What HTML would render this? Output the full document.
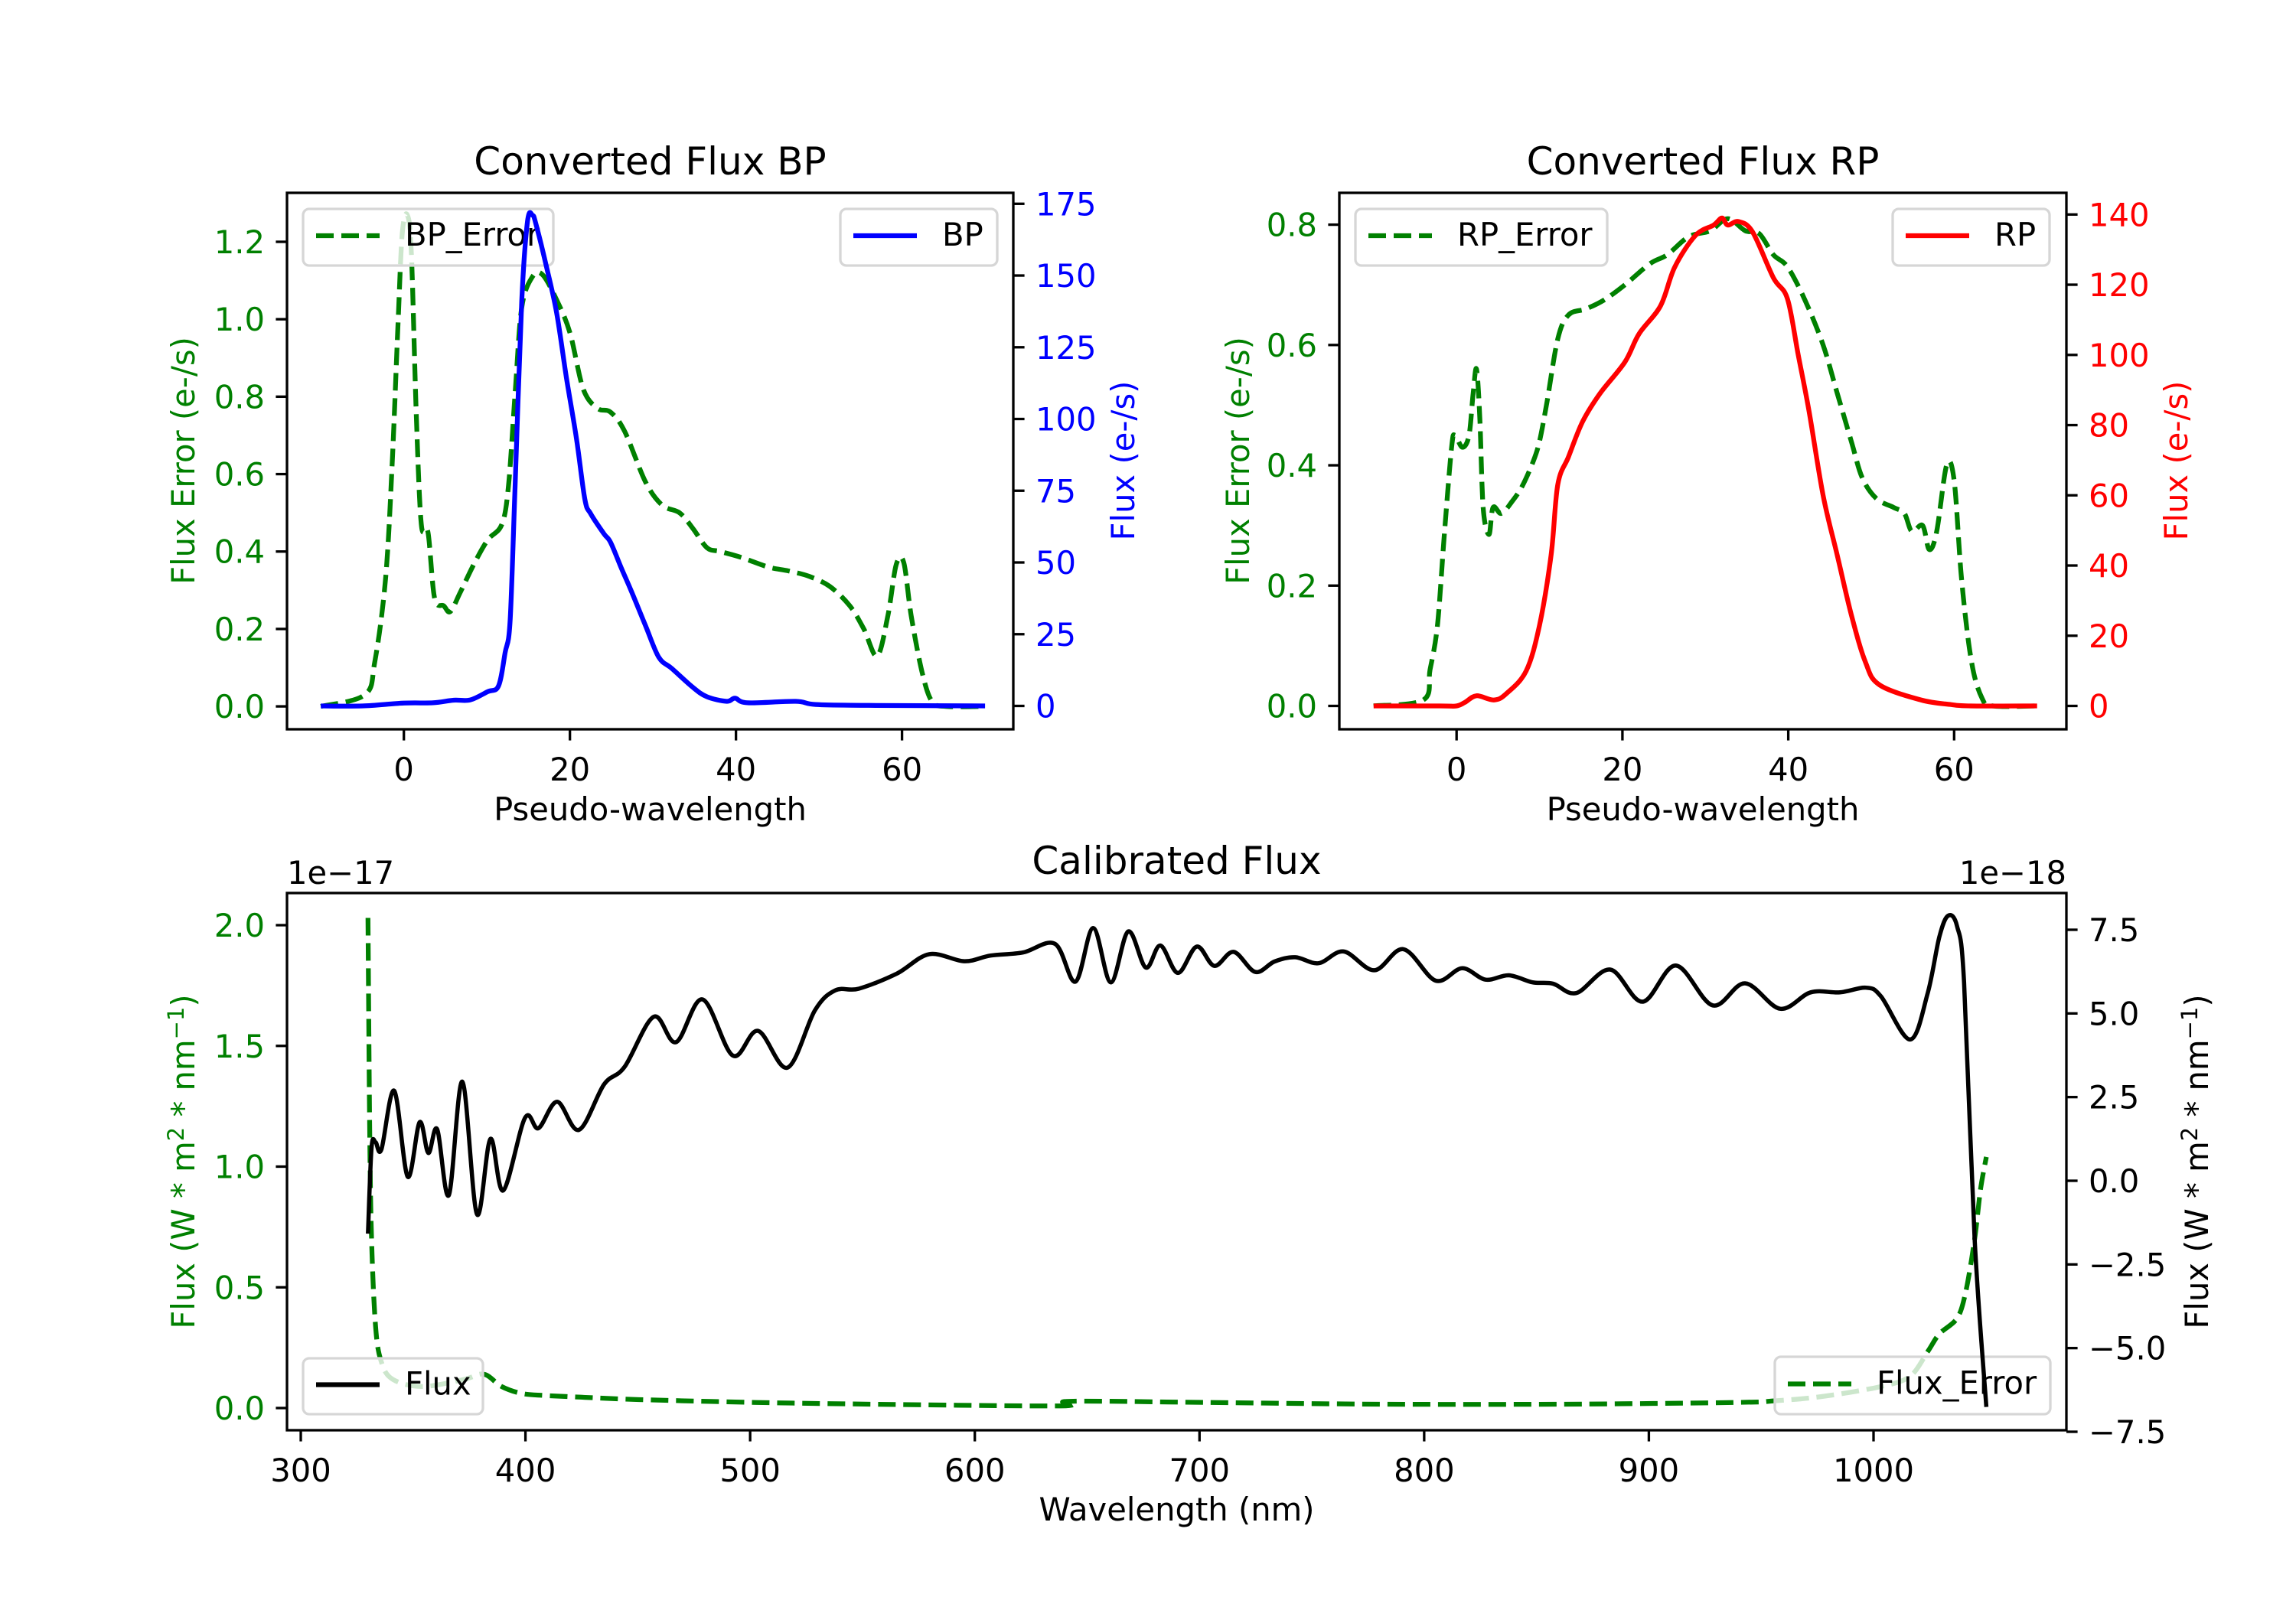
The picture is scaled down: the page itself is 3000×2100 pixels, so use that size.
<!DOCTYPE html>
<html><head><meta charset="utf-8"><style>
html,body{margin:0;padding:0;background:#fff;}
svg{display:block;font-family:"DejaVu Sans","Liberation Sans",sans-serif;}
</style></head><body>
<svg id="fig" width="3000" height="2100" viewBox="0 0 3000 2100" xmlns="http://www.w3.org/2000/svg">
<rect width="3000" height="2100" fill="#fff"/>
<defs>
<clipPath id="c1"><rect x="375" y="252" width="949" height="701"/></clipPath>
<clipPath id="c2"><rect x="1750" y="252" width="950" height="701"/></clipPath>
<clipPath id="c3"><rect x="375" y="1167" width="2325" height="702"/></clipPath>
</defs>
<g id="root"></g>
</svg>
<script>
// ---- data: BP panel ----
const bpX = [-10,-5,0,3.5,6,8,10.1,11.4,12.2,12.8,13.4,14.2,14.9,15.5,15.9,17.1,18.4,19.6,20.8,21.8,22.5,24.1,24.9,26.2,27.4,29.1,30.7,32.3,34.8,36.5,38.9,39.9,41.4,47.2,49.6,56,70];
const bpFlux = [0,0,1,1.1,2,2.1,5,7,18.6,30,77,141,169,171,168,154,137,114,93,72,67,60,57,48,40,28,17,13,6.5,3.2,1.6,2.7,1.1,1.6,0.5,0.2,0];
const bpErrX = [-10,-4.7,-3.5,-2.2,-1.4,-0.7,-0.2,0.4,0.9,1.5,2.1,2.9,3.7,4.8,5.6,6.8,8.5,10.1,11.8,12.6,13.4,14.2,15.5,16.7,18.4,20,21.6,23.3,24.9,26.6,29.1,31.1,33.2,34.8,36.5,38.1,40.6,43.9,46.3,48.8,51.3,53.7,55.4,57,58.3,59.3,60.2,61.1,62.4,63.6,65.3,70];
const bpErr = [0,0.03,0.115,0.33,0.63,0.99,1.22,1.27,1.17,0.75,0.47,0.45,0.28,0.26,0.245,0.295,0.37,0.43,0.47,0.57,0.81,1.03,1.11,1.115,1.05,0.965,0.82,0.77,0.76,0.71,0.58,0.52,0.50,0.46,0.41,0.40,0.385,0.36,0.35,0.336,0.31,0.26,0.2,0.13,0.235,0.366,0.372,0.235,0.09,0.013,0,0];
// ---- data: RP panel ----
const rpX = [-10,-2,0,1,2.4,4.5,6,8.4,10,11.4,12.2,13.5,15.2,17.3,20.3,22,24.6,26.3,28.8,31,32,32.7,34,35.7,38.2,39.9,41.2,42.5,44.2,45.9,47.6,49.3,51,56,59.6,62,70];
const rpFlux = [0,0,0,1,2.9,1.7,3.5,10,23,43,63,71,81,89,98,106,114,125,134,137,139,137,138,135,122,116,100,84,60,43,26,12.5,6,1.7,0.4,0,0];
const rpErrX = [-10,-4,-3.2,-2.3,-1.45,-0.6,-0.2,0.7,1.5,2,2.4,2.8,3.2,3.9,4.4,5.4,6.7,7.9,9.2,10,10.9,12.2,13.5,15.6,17.8,20.3,23.3,25.4,28,30.6,32.7,34.8,36.5,38.2,39.9,42,44.2,45.9,47.6,48.9,50.6,52.7,54,54.9,56.2,57,57.9,59.1,60,60.9,62.1,63.4,64.7,70];
const rpErr = [0,0.01,0.06,0.135,0.29,0.43,0.45,0.43,0.45,0.52,0.56,0.48,0.33,0.285,0.33,0.32,0.34,0.365,0.405,0.44,0.505,0.61,0.65,0.66,0.675,0.70,0.735,0.75,0.78,0.79,0.81,0.79,0.785,0.75,0.73,0.675,0.60,0.52,0.44,0.38,0.345,0.33,0.32,0.29,0.30,0.26,0.29,0.40,0.375,0.21,0.073,0.012,0,0];
// ---- data: calibrated panel ----
const calX = [329.9,331.5,333.3,335.9,341.6,347.6,352.9,356.8,360.7,365.9,371.9,378.4,384.4,390.1,399.8,405.8,414.1,423.8,435,444.1,457.1,467,478.8,492.3,503.5,516.6,528.8,537.9,548.4,565.3,579.7,595.3,607,621.4,635.7,644.8,652.7,660.5,668.3,676.1,682.6,690.4,698.8,706.6,715.2,724.8,733.4,742.6,753,764.2,777.8,790.8,805.1,816.9,827.3,837.7,848.2,857.3,867.7,882.8,897.2,912,928.4,942.8,958.4,972,985,996.7,1003.3,1016.3,1024.1,1029.3,1033.2,1037.2,1040.3,1045,1050.2];
const calFlux = [-1.58,0.99,1.15,0.94,2.69,0.12,1.75,0.83,1.54,-0.43,2.96,-1.0,1.25,-0.29,1.88,1.57,2.36,1.52,2.88,3.4,4.9,4.14,5.42,3.74,4.48,3.38,5.09,5.69,5.74,6.19,6.77,6.56,6.73,6.82,7.08,5.95,7.55,5.93,7.45,6.37,7.03,6.21,7.0,6.42,6.84,6.24,6.55,6.68,6.5,6.85,6.29,6.92,5.98,6.35,6.01,6.14,5.93,5.89,5.61,6.31,5.35,6.43,5.24,5.9,5.14,5.63,5.63,5.77,5.51,4.22,5.61,7.29,7.92,7.6,5.93,-1.74,-6.76];
const errX = [329.9,330.7,331.5,333.3,335.9,341.1,354.2,372.4,381.5,389.4,398.5,408.9,424.5,450.6,502.7,554.9,638.3,642.2,703,781.7,860,938,956.3,977.2,1003.3,1016.3,1024.1,1029.3,1037.2,1041,1045,1047.6,1050.2];
const calErr = [2.03,1.14,0.70,0.336,0.19,0.118,0.089,0.118,0.14,0.089,0.06,0.052,0.045,0.035,0.023,0.016,0.009,0.028,0.023,0.016,0.016,0.023,0.03,0.048,0.089,0.132,0.234,0.307,0.372,0.48,0.70,0.904,1.04];
// ---- ticks ----
const bpXTicks=[0,20,40,60], bpLTicks=[0,0.2,0.4,0.6,0.8,1.0,1.2], bpRTicks=[0,25,50,75,100,125,150,175];
const rpXTicks=[0,20,40,60], rpLTicks=[0,0.2,0.4,0.6,0.8], rpRTicks=[0,20,40,60,80,100,120,140];
const calXTicks=[300,400,500,600,700,800,900,1000], calLTicks=[0,0.5,1.0,1.5,2.0], calRTicks=[-7.5,-5,-2.5,0,2.5,5,7.5];

const NS="http://www.w3.org/2000/svg";
const root=document.getElementById('root');
function el(tag,attrs,parent){const e=document.createElementNS(NS,tag);for(const k in attrs)e.setAttribute(k,attrs[k]);(parent||root).appendChild(e);return e;}
function lin(d0,p0,d1,p1){return v=>p0+(v-d0)*(p1-p0)/(d1-d0);}
function fmt(v,dec){let s=v.toFixed(dec);return s.replace('-','\u2212');}
const FS=41.7;
function txt(x,y,s,opts,parent){const t=el('text',Object.assign({x:x,y:y,'font-size':FS,fill:'#000'},opts||{}),parent);t.textContent=s;return t;}
function smoothPath(P){
  let d='M'+P[0][0].toFixed(1)+','+P[0][1].toFixed(1);
  const k=0.5/3;
  for(let i=0;i<P.length-1;i++){
    const p0=P[Math.max(0,i-1)],p1=P[i],p2=P[i+1],p3=P[Math.min(P.length-1,i+2)];
    const c1x=p1[0]+(p2[0]-p0[0])*k, c1y=p1[1]+(p2[1]-p0[1])*k;
    const c2x=p2[0]-(p3[0]-p1[0])*k, c2y=p2[1]-(p3[1]-p1[1])*k;
    d+=' C'+c1x.toFixed(1)+','+c1y.toFixed(1)+' '+c2x.toFixed(1)+','+c2y.toFixed(1)+' '+p2[0].toFixed(1)+','+p2[1].toFixed(1);
  }
  return d;
}
function line(xs,ys,sx,sy,attrs,clip,name){
  const P=xs.map((x,i)=>[sx(x),sy(ys[i])]);
  const p=el('path',Object.assign({d:smoothPath(P),fill:'none','stroke-linejoin':'round','clip-path':'url(#'+clip+')'},attrs));
  
  
  return p;
}
function legend(x,y,w,h,label,color,dash,name){
  const g=el('g',{});
  
  
  el('rect',{x:x,y:y,width:w,height:h,rx:8,fill:'rgba(255,255,255,0.8)',stroke:'#d6d6d6','stroke-width':3.3},g);
  el('line',Object.assign({x1:x+17,y1:y+h/2-2,x2:x+100,y2:y+h/2-2,stroke:color,'stroke-width':6.25},dash?{'stroke-dasharray':'23 10'}:{}),g);
  txt(x+133,y+h/2+11,label,{},g);
}
function axes(L,T,R,B,sx,xt,xdec,syL,lt,ldec,lcol,syR,rt,rdec,rcol){
  for(const v of xt){const X=sx(v);el('line',{x1:X,y1:B,x2:X,y2:B+14.6,stroke:'#000','stroke-width':3.3});
    const t=txt(X,B+29+38,fmt(v,xdec),{'text-anchor':'middle'});}
  for(const v of lt){const Y=syL(v);el('line',{x1:L-14.6,y1:Y,x2:L,y2:Y,stroke:'#000','stroke-width':3.3});
    const t=txt(L-29,Y+15,fmt(v,ldec),{'text-anchor':'end',fill:lcol});}
  for(const v of rt){const Y=syR(v);el('line',{x1:R,y1:Y,x2:R+14.6,y2:Y,stroke:'#000','stroke-width':3.3});
    const t=txt(R+29,Y+15,fmt(v,rdec),{'text-anchor':'start',fill:rcol});}
}
function frame(L,T,R,B,name){const r=el('rect',{x:L,y:T,width:R-L,height:B-T,fill:'none',stroke:'#000','stroke-width':3.3});}
function vlabel(x,y,s,col,name){const t=txt(x,y,s,{'text-anchor':'middle',fill:col,transform:'rotate(-90 '+x+' '+y+')'});return t;}
function hlabel(x,y,s,size,name){const t=txt(x,y,s,{'text-anchor':'middle','font-size':size});return t;}

// ===== BP panel =====
{const L=375,T=252,R=1324,B=953;
 const sx=lin(0,527.7,60,1178.6), syL=lin(0,923.1,1.2,316), syR=lin(0,922.5,175,266.3);
 line(bpErrX,bpErr,sx,syL,{stroke:'#008000','stroke-width':6.25,'stroke-dasharray':'23 10'},'c1','bp-error-line');
 legend(396,273,327,74,'BP_Error','#008000',true,'bp-error-legend');
 line(bpX,bpFlux,sx,syR,{stroke:'#0000ff','stroke-width':6.25},'c1','bp-flux-line');
 legend(1098,273,205,74,'BP','#0000ff',false,'bp-legend');
 frame(L,T,R,B,'bp-axes-frame');
 axes(L,T,R,B,sx,bpXTicks,0,syL,bpLTicks,1,'#008000',syR,bpRTicks,0,'#0000ff');
 hlabel((L+R)/2,228,'Converted Flux BP',50,'bp-title');
 hlabel((L+R)/2,1072,'Pseudo-wavelength',FS,'bp-x-axis-title');
 vlabel(254,602,'Flux Error (e-/s)','#008000','bp-left-y-axis-title');
 vlabel(1482,602,'Flux (e-/s)','#0000ff','bp-right-y-axis-title');
}
// ===== RP panel =====
{const L=1750,T=252,R=2700,B=953;
 const sx=lin(0,1903.2,60,2553.3), syL=lin(0,922.5,0.8,293.6), syR=lin(0,922.5,140,280.3);
 line(rpErrX,rpErr,sx,syL,{stroke:'#008000','stroke-width':6.25,'stroke-dasharray':'23 10'},'c2','rp-error-line');
 legend(1771,273,329,74,'RP_Error','#008000',true,'rp-error-legend');
 line(rpX,rpFlux,sx,syR,{stroke:'#ff0000','stroke-width':6.25},'c2','rp-flux-line');
 legend(2473,273,205,74,'RP','#ff0000',false,'rp-legend');
 frame(L,T,R,B,'rp-axes-frame');
 axes(L,T,R,B,sx,rpXTicks,0,syL,rpLTicks,1,'#008000',syR,rpRTicks,0,'#ff0000');
 hlabel((L+R)/2,228,'Converted Flux RP',50,'rp-title');
 hlabel((L+R)/2,1072,'Pseudo-wavelength',FS,'rp-x-axis-title');
 vlabel(1632,602,'Flux Error (e-/s)','#008000','rp-left-y-axis-title');
 vlabel(2858,602,'Flux (e-/s)','#ff0000','rp-right-y-axis-title');
}
// ===== Calibrated panel =====
{const L=375,T=1167,R=2700,B=1869;
 const sx=lin(300,393,1000,2448), syL=lin(0,1840,2.0,1209), syR=lin(0,1543,7.5,1215);
 line(errX,calErr,sx,syL,{stroke:'#008000','stroke-width':6.25,'stroke-dasharray':'23 10'},'c3','flux-error-line');
 legend(2319,1773,360,75,'Flux_Error','#008000',true,'flux-error-legend');
 line(calX,calFlux,sx,syR,{stroke:'#000','stroke-width':5.5},'c3','flux-line');
 legend(396,1775,235,73,'Flux','#000',false,'flux-legend');
 frame(L,T,R,B,'cal-axes-frame');
 axes(L,T,R,B,sx,calXTicks,0,syL,calLTicks,1,'#008000',syR,calRTicks,1,'#000');
 hlabel((L+R)/2,1142,'Calibrated Flux',50,'cal-title');
 hlabel((L+R)/2,1987,'Wavelength (nm)',FS,'cal-x-axis-title');
 let t=txt(375,1155,'1e\u221217',{});
 t=txt(2700,1155,'1e\u221218',{'text-anchor':'end'});
 const l1=vlabel(254,1518,'','#008000','cal-left-y-axis-title');
 l1.innerHTML='Flux (W * m<tspan dy="-14" font-size="29">2</tspan><tspan dy="14"> * nm</tspan><tspan dy="-14" font-size="29">\u22121</tspan><tspan dy="14">)</tspan>';
 const l2=vlabel(2885,1518,'','#000','cal-right-y-axis-title');
 l2.innerHTML='Flux (W * m<tspan dy="-14" font-size="29">2</tspan><tspan dy="14"> * nm</tspan><tspan dy="-14" font-size="29">\u22121</tspan><tspan dy="14">)</tspan>';
}
</script>
</body></html>
